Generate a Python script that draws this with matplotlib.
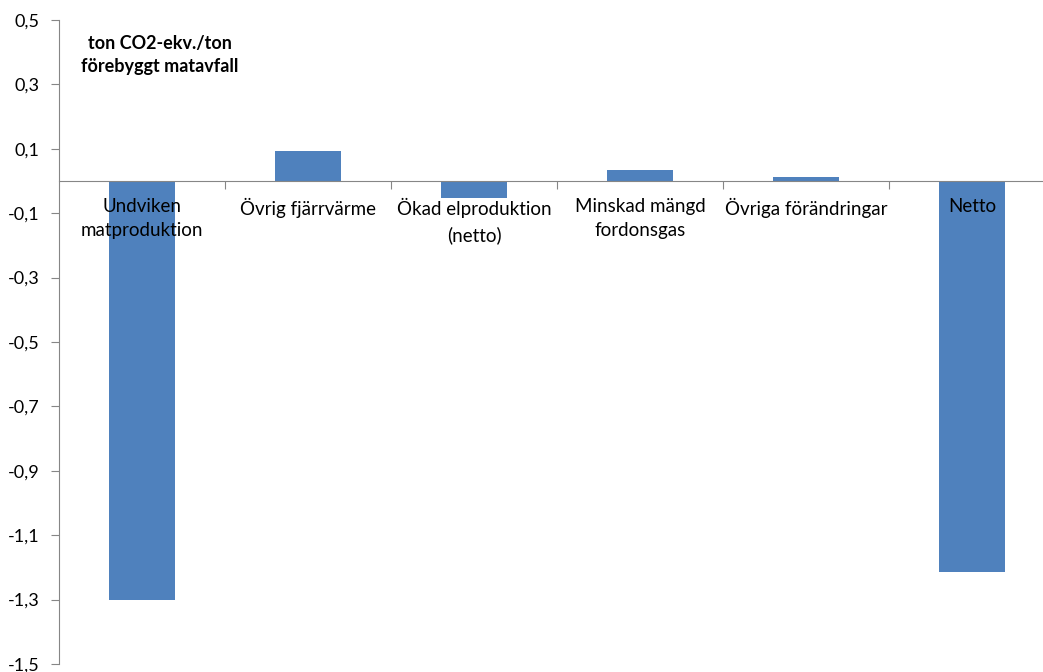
import numpy as np
import matplotlib
matplotlib.use("Agg")
import matplotlib.pyplot as plt

plt.rcParams["font.family"] = ["Lato", "DejaVu Sans"]

categories = ["Undviken\nmatproduktion", "Övrig fjärrvärme", "Ökad elproduktion\n(netto)",
              "Minskad mängd\nfordonsgas", "Övriga förändringar", "Netto"]
values = [-1.30, 0.093, -0.053, 0.034, 0.012, -1.215]
yticks = [-1.5, -1.3, -1.1, -0.9, -0.7, -0.5, -0.3, -0.1, 0.1, 0.3, 0.5]
unit_label = "ton CO2-ekv./ton\nförebyggt matavfall"

W, H = 1043, 672
fig = plt.figure(figsize=(W / 100, H / 100), dpi=100)
# plot area runs a bit past the right edge, as in the exported sheet
ax = fig.add_axes([59 / W, 1 - 664 / H, 996 / W, 644 / H])

x = np.arange(len(categories))
ax.bar(x, values, width=0.4, color="#4F81BD", zorder=2)
ax.set_axisbelow(False)

ax.set_xlim(-0.5, len(categories) - 0.5)
ax.set_ylim(-1.5, 0.5)

grey = "#868686"
for s in ["top", "right"]:
    ax.spines[s].set_visible(False)
ax.spines["left"].set_color(grey)
ax.spines["bottom"].set_color(grey)
ax.spines["bottom"].set_position(("data", 0))
ax.spines["bottom"].set_zorder(3)

ax.set_yticks(yticks)
ax.set_yticklabels([f"{v:.1f}".replace(".", ",") for v in yticks], fontsize=13)
ax.tick_params(axis="y", direction="out", length=6, color=grey, pad=8)

# separators between categories, names under the zero line
ax.set_xticks(np.arange(len(categories) - 1) + 0.5)
ax.set_xticklabels([])
ax.tick_params(axis="x", which="major", direction="out", length=6, color=grey)
ax.set_xticks(x, categories, minor=True)
ax.tick_params(axis="x", which="minor", length=0, pad=12, labelsize=13.5)
for lbl in ax.get_xticklabels(minor=True):
    lbl.set_linespacing(1.55)

fig.text(160 / W, 1 - 55 / H, unit_label, ha="center", va="center",
         fontsize=13, fontweight="bold", linespacing=1.45)

fig.savefig("out.png", dpi=100)
